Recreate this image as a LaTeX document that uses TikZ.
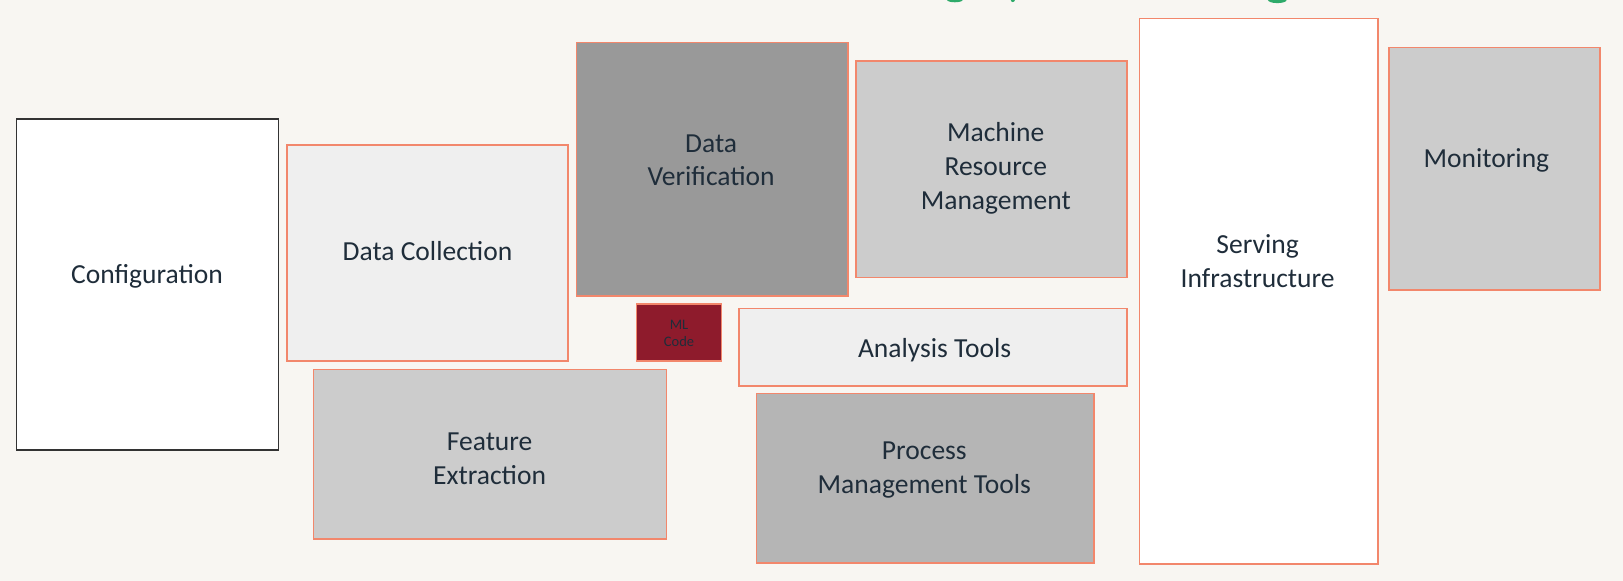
\documentclass[tikz,border=0pt]{standalone}
\usepackage{fontspec}
\setmainfont{Carlito}
\definecolor{bg}{HTML}{F8F6F2}
\definecolor{edge}{HTML}{F2876C}
\definecolor{txt}{HTML}{1F2D3A}
\definecolor{lightg}{HTML}{EFEFEF}
\definecolor{midg}{HTML}{CCCCCC}
\definecolor{darkg}{HTML}{999999}
\definecolor{procg}{HTML}{B5B5B5}
\definecolor{mlred}{HTML}{8E1B2C}
\definecolor{titlegreen}{HTML}{2EAA6A}
\newcommand\mybox[6]{%
  \node[boxstyle, fill=#6, anchor=north west,
        minimum width={(#4-#2)*0.5pt}, minimum height={(#5-#3)*0.5pt}]
        (#1) at (#2,#3) {};}
\begin{document}
\begin{tikzpicture}[x=0.5pt,y=-0.5pt]
\tikzset{
  boxstyle/.style={draw=edge, line width=0.8pt, inner sep=0pt, outer sep=0pt},
  lbl/.style={text=txt, align=center, inner sep=0pt, font=\fontsize{13.3}{16.25}\selectfont},
  smalllbl/.style={text=txt, align=center, inner sep=0pt, font=\fontsize{7}{8.5}\selectfont}
}
\fill[bg] (0,0) rectangle (1568,561);
\useasboundingbox (0,0) rectangle (1568,561);
\begin{scope}
\clip (0,0) rectangle (1568,561);
\fill[titlegreen] (922.5,0) ellipse (7.5 and 2.2);
\fill[titlegreen] (978.5,0) ellipse (2 and 2);
\fill[titlegreen] (1234,0) ellipse (9 and 3);
\end{scope}
% boxes
\node[boxstyle, draw=black!80, fill=white, anchor=north west,
      minimum width={(269-16)*0.5pt}, minimum height={(435-115)*0.5pt}] (config) at (16,115) {};
\mybox{collect}{277}{140}{549}{349}{lightg}
\mybox{verify}{557}{41}{819}{286}{darkg}
\mybox{machine}{827}{59}{1089}{268}{midg}
\mybox{serving}{1101}{18}{1331}{545}{white}
\mybox{monitor}{1342}{46}{1546}{280}{midg}
\mybox{mlcode}{615}{294}{697}{349}{mlred}
\mybox{analysis}{714}{298}{1089}{373}{lightg}
\mybox{feature}{303}{357}{644}{521}{midg}
\mybox{process}{731}{380}{1057}{544}{procg}
% labels
\node[lbl] (configT) at (142,267) {Configuration};
\node[lbl] (collectT) at (413,243) {Data Collection};
\node[lbl] (verifyT) at (687,155) {Data\\Verification};
\node[lbl] (machineT) at (962,162.5) {Machine\\Resource\\Management};
\node[lbl] (servingT) at (1215,252) {Serving\\Infrastructure};
\node[lbl] (monitorT) at (1436,155) {Monitoring};
\node[smalllbl] (mlcodeT) at (656,322) {ML\\Code};
\node[lbl] (analysisT) at (903,338) {Analysis Tools};
\node[lbl] (featureT) at (473,443.5) {Feature\\Extraction};
\node[lbl] (processT) at (893,454) {Process\\Management Tools};
\end{tikzpicture}
\end{document}
